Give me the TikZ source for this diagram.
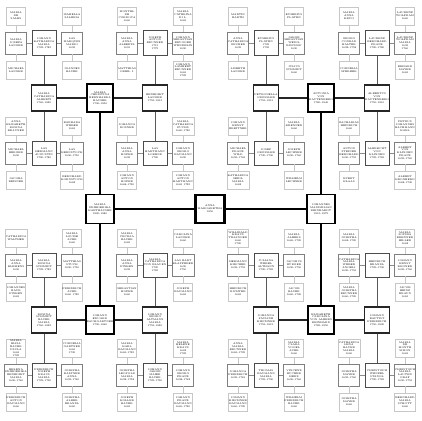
\documentclass[tikz,border=0pt]{standalone}
\begin{document}
\begin{tikzpicture}[x=1pt,y=-1pt,
 base/.style={draw, fill=white, align=center, inner sep=0.6pt, font=\fontsize{2.5}{2.9}\selectfont},
 n6/.style={base, draw=black!22, line width=.6pt, minimum width=19pt, minimum height=18pt},
 n5/.style={base, draw=black!50, line width=.8pt, minimum width=21pt, minimum height=22pt},
 n4/.style={base, draw=black!70, line width=1pt, minimum width=24pt, minimum height=24pt},
 n3/.style={base, draw=black!85, line width=1.2pt, minimum width=25pt, minimum height=26pt},
 n2/.style={base, draw=black, line width=1.5pt, minimum width=26pt, minimum height=28pt},
 n1/.style={base, draw=black, line width=1.8pt, minimum width=28pt, minimum height=29pt},
 n0/.style={base, draw=black, line width=2.4pt, minimum width=29pt, minimum height=28pt},
 e1/.style={line width=2.4pt}, e2/.style={line width=1.8pt},
 e3/.style={line width=1.3pt, draw=black!85}, e4/.style={line width=1pt, draw=black!65},
 e5/.style={line width=.8pt, draw=black!45}, e6/.style={line width=.7pt, draw=black!22}]
\useasboundingbox (0,0) rectangle (422,420);
\newcommand\N[5]{\node[#1] (#2) at (#3,#4) {#5};}
% level 0-2
\N{n0}{c}{210}{209}{ANNA\\MARGARETHA\\1850}
\N{n1}{a}{100}{209}{MARIA\\FRIEDERIKA\\KARTHÄUSER\\1820-1880}
\N{n1}{b}{321}{209}{JOHANNES\\MAXIMILIAN\\REINHARDT\\1815-1875}
\N{n2}{aU}{100}{98}{MARIA\\CHRISTINA\\BERNHARDA\\HAUSER\\1790-1850}
\N{n2}{aD}{100}{320}{JOHANN\\EDUARD\\BAUMGARTNER\\1790-1860}
\N{n2}{bU}{321}{98}{ANTONIA\\VON\\RAUTENBERG\\1780-1840}
\N{n2}{bD}{321}{320}{ELISABETH\\CAROLINA\\VON ALBERS\\REINHARD\\1785-1850}
% level 3
\N{n3}{aUL}{44}{98}{MARIA\\CATHARINA\\ALBERTI\\1760-1820}
\N{n3}{aUR}{155}{98}{BENEDIKT\\LANGER\\1755-1815}
\N{n3}{aDL}{44}{320}{ROSINA\\SCHMIDT\\BAUER\\MARIA\\1760-1825}
\N{n3}{aDR}{155}{320}{JOHANN\\GEORG\\ALTMANN\\MARIA\\1755-1820}
\N{n3}{bUL}{266}{98}{PETRONELLA\\GRÖSSLER\\1755-1815}
\N{n3}{bUR}{377}{98}{ALBERTUS\\VON\\RAUTENBERG\\1750-1810}
\N{n3}{bDL}{266}{320}{JOHANNA\\PAULINE\\KIRCHNER\\1755-1815}
\N{n3}{bDR}{377}{320}{JOHANN\\BAPTIST\\FRIEDRICH\\1750-1820}
% level 4
\N{n4}{aULU}{44}{43}{JOHANN\\KATHARINA\\MARIA\\1725-1785}
\N{n4}{aULD}{44}{153}{LAS\\HERMANN\\AUGUSTIN\\1720-1780}
\N{n4}{aURU}{155}{43}{JOSEPH\\ANTON\\BRUNNER\\1715\\1775}
\N{n4}{aURD}{155}{153}{LAS\\HARTMANN\\LORENZ\\1720}
\N{n4}{aDLU}{44}{265}{MARIA\\ROSINA\\SCHMIDT\\1725-1785}
\N{n4}{aDLD}{44}{375}{FRIEDRICH\\JOSEPH\\KRAUS\\MARIA\\1725-1790}
\N{n4}{aDRU}{155}{265}{MARIA\\CATHARINA\\VON BLAUEN\\1720\\1785}
\N{n4}{aDRD}{155}{375}{JOHANN\\JAKOB\\MAIER\\BAUER\\1725-1790}
\N{n4}{bULU}{266}{43}{EUSEBIUS\\PLATEN\\1725\\1795}
\N{n4}{bULD}{266}{153}{JOSEF\\GRÖSSLER\\1730-1790}
\N{n4}{bURU}{377}{43}{LAURENZ\\BERNHARD\\FRANZ\\1720-1780}
\N{n4}{bURD}{377}{153}{ALBRECHT\\VON\\KLINGEN\\1725-1785}
\N{n4}{bDLU}{266}{265}{JULIANA\\WEBEL\\ALTHANN\\1720-1785}
\N{n4}{bDLD}{266}{375}{THOMAS\\BAUMANN\\MARIA\\1725-1790}
\N{n4}{bDRU}{377}{265}{HEINRICH\\BRANDL\\1725-1790}
\N{n4}{bDRD}{377}{375}{CHRISTOPH\\WENZEL\\STANGL\\1720-1785}
% level 5
\N{n5}{aULUL}{16}{43}{MARIA\\JOSEFA\\LANGER}
\N{n5}{aULUR}{72}{43}{LAS\\MARQUES\\MARIO\\1695}
\N{n5}{aULDL}{16}{153}{MICHAEL\\BERGER\\1690}
\N{n5}{aULDR}{72}{153}{LAS\\KERNSTOCK\\1690-1750}
\N{n5}{aURUL}{127}{43}{MARIA\\ANNA\\ALBERTA\\1691}
\N{n5}{aURUR}{183}{43}{JOHANN\\SEBASTIAN\\BRUGGER\\WENDELIN\\1690}
\N{n5}{aURDL}{127}{153}{MARIA\\ANNA\\HOFER\\1695}
\N{n5}{aURDR}{183}{153}{JOHANN\\GEORG\\BAUMANN\\1690}
\N{n5}{aDLUL}{16}{265}{MARIA\\ANNA\\KLEMENS\\1690}
\N{n5}{aDLUR}{72}{265}{MATTHIAS\\STUCK\\1690-1750}
\N{n5}{aDLDL}{16}{375}{HELENA\\FRIEDERIKA\\BENEDIKT\\MARIA\\1690-1760}
\N{n5}{aDLDR}{72}{375}{JOSEPHA\\KALTNER\\ANNA\\1695-1760}
\N{n5}{aDRUL}{127}{265}{MARIA\\ANNA\\FINKEN\\1695}
\N{n5}{aDRUR}{183}{265}{LAS BART\\KLAPFERER\\1690\\1750}
\N{n5}{aDRDL}{127}{375}{JOSEPHA\\LEOPOLD\\MARIA\\1692-1758}
\N{n5}{aDRDR}{183}{375}{JOHANN\\GEORG\\FRANZ\\1698-1762}
\N{n5}{bULUL}{238}{43}{ANNA\\CATHARINA\\GRUBER\\1695}
\N{n5}{bULUR}{294}{43}{JAKOB\\SEBASTIAN\\WEIGL\\BISCHOF\\1690}
\N{n5}{bULDL}{238}{153}{MICHAEL\\FRANZ\\WILD\\1695-1765}
\N{n5}{bULDR}{294}{153}{JOSEPH\\LECHNER\\1690-1760}
\N{n5}{bURUL}{349}{43}{GEORG\\CONRAD\\HALTER\\1692-1758}
\N{n5}{bURUR}{405}{43}{LAURENZ\\WOLFRAM\\MARIA\\1695\\1760}
\N{n5}{bURDL}{349}{153}{ANTON\\STEINER\\BERNHARD\\1690-1755}
\N{n5}{bURDR}{405}{153}{ALBERT\\VON\\KLINGEN\\FRANZ\\1695-1760}
\N{n5}{bDLUL}{238}{265}{HERMANN\\KIRCHER\\1695-1755}
\N{n5}{bDLUR}{294}{265}{JACOBUS\\BÜRGER\\1690-1750}
\N{n5}{bDLDL}{238}{375}{JOHANNA\\FRIEDRICH\\1695-1765}
\N{n5}{bDLDR}{294}{375}{VINCENZ\\BUCHER\\HERZ\\1690-1760}
\N{n5}{bDRUL}{349}{265}{CATHARINA\\MARIA\\WEBER\\ANGELI\\1690-1755}
\N{n5}{bDRUR}{405}{265}{JOHANN\\ERNST\\KRONER\\1695-1760}
\N{n5}{bDRDL}{349}{375}{JOSEPHA\\MAYER\\1695-1760}
\N{n5}{bDRDR}{405}{375}{CHRISTOPH\\MARIA\\LAUTEN\\GRAF\\1690-1755}
% leaves
\N{n6}{aULULU}{16}{16}{MARIA\\DE\\SALES}
\N{n6}{aULULD}{16}{70}{MICHAEL\\LANGER}
\N{n6}{aULURU}{72}{16}{ISABELLA\\SALERIA}
\N{n6}{aULURD}{72}{70}{JOANNES\\BAUER}
\N{n6}{aULDLU}{16}{126}{ANNA\\ELISABETH\\ROSINA\\BRAUNER}
\N{n6}{aULDLD}{16}{180}{JACOBA\\REISNER}
\N{n6}{aULDRU}{72}{126}{BARBARA\\WEBER\\1665}
\N{n6}{aULDRD}{72}{180}{BERNHARD\\KORNSTOCK\\1662}
\N{n6}{aURULU}{127}{16}{MONTEL\\DE\\CORDOVA\\1660}
\N{n6}{aURULD}{127}{70}{MATTHIAS\\GREIL I.}
\N{n6}{aURURU}{183}{16}{MARIA\\CATERINA\\DI L.\\1665}
\N{n6}{aURURD}{183}{70}{JOHANN\\LAMBERT\\BRUNNER\\1665\\1725}
\N{n6}{aURDLU}{127}{126}{JOHANNA\\ROSNER}
\N{n6}{aURDLD}{127}{180}{JOHANN\\ANTON\\HOFER\\1668-1730}
\N{n6}{aURDRU}{183}{126}{MARIA\\CATHARINA\\FUCHS\\1660-1720}
\N{n6}{aURDRD}{183}{180}{JOHANN\\ANTON\\HARTMANN\\1665 1725}
\N{n6}{aDLULU}{16}{238}{CATHARINA\\WALTHER}
\N{n6}{aDLULD}{16}{292}{JOHANNES\\BAUR\\FINKEN\\1665}
\N{n6}{aDLURU}{72}{238}{MARIA\\LOUISE\\AUER\\1660}
\N{n6}{aDLURD}{72}{292}{FRIEDRICH\\AUER\\1660 1720}
\N{n6}{aDLDLU}{16}{348}{MARIA\\ELISA\\BAUER\\PAULA\\1665\\1725}
\N{n6}{aDLDLD}{16}{402}{FRIEDRICH\\ANTON\\BAUMANN\\1660}
\N{n6}{aDLDRU}{72}{348}{CORNELIA\\GARTNER\\1665\\1730}
\N{n6}{aDLDRD}{72}{402}{JOSEPHA\\ALBER\\BRANDL\\1660}
\N{n6}{aDRULU}{127}{238}{MARIA\\CECILIA\\BAUER\\1665}
\N{n6}{aDRULD}{127}{292}{SEBASTIAN\\HOFER\\1660}
\N{n6}{aDRURU}{183}{238}{CAROLINA\\LANGER\\1660}
\N{n6}{aDRURD}{183}{292}{JOSEPH\\BAUMANN\\1665}
\N{n6}{aDRDLU}{127}{348}{MARIA\\KARL\\BAUMANN\\1665-1725}
\N{n6}{aDRDLD}{127}{402}{JOSEPH\\KOLLER\\BAUER\\1665}
\N{n6}{aDRDRU}{183}{348}{MARIA\\HELENE\\KRAUS\\1662\\1725}
\N{n6}{aDRDRD}{183}{402}{JOHANN\\FRANZ\\BAUMANN\\1660-1720}
\N{n6}{bULULU}{238}{16}{MARTIN\\BARTH}
\N{n6}{bULULD}{238}{70}{LISBETH\\LANGER}
\N{n6}{bULURU}{294}{16}{EUSEBIUS\\PLATEN}
\N{n6}{bULURD}{294}{70}{JULIUS\\SCHMIDT\\1660}
\N{n6}{bULDLU}{238}{126}{JOHANN\\ERNST\\BREITNER}
\N{n6}{bULDLD}{238}{180}{KATHARINA\\SEIDL\\MARIA\\1662}
\N{n6}{bULDRU}{294}{126}{MARIA\\KRENNER\\1660}
\N{n6}{bULDRD}{294}{180}{WILHELM\\LECHNER}
\N{n6}{bURULU}{349}{16}{MARIA\\ANNA\\KRUG}
\N{n6}{bURULD}{349}{70}{CORNELIA\\SPERBER}
\N{n6}{bURURU}{405}{16}{LAURENZ\\WOLFRAM\\1660}
\N{n6}{bURURD}{405}{70}{ERHARD\\MAYER\\1665}
\N{n6}{bURDLU}{349}{126}{ZACHARIAS\\HEINRICH\\1660}
\N{n6}{bURDLD}{349}{180}{EVERT\\KLAAS}
\N{n6}{bURDRU}{405}{126}{PETRUS\\JOHANNES\\BACHMANN\\KARL}
\N{n6}{bURDRD}{405}{180}{ALBERT\\KRONBERG\\1662-1730}
\N{n6}{bDLULU}{238}{238}{WILLIBALD\\KRAUS\\TILLINGER\\1660\\1720}
\N{n6}{bDLULD}{238}{292}{HEINRICH\\RICHTER\\1665}
\N{n6}{bDLURU}{294}{238}{MARIA\\ALBERS\\1660-1720}
\N{n6}{bDLURD}{294}{292}{JACOB\\BAUER\\1660-1720}
\N{n6}{bDLDLU}{238}{348}{ANNA\\MARIA\\BRUNNER\\1665-1725}
\N{n6}{bDLDLD}{238}{402}{JOHANN\\KIRCHNER\\BAUMANN\\1660-1720}
\N{n6}{bDLDRU}{294}{348}{MARIA\\CLARA\\VOGEL\\AUER\\1660}
\N{n6}{bDLDRD}{294}{402}{WILHELM\\FRIEDRICH\\BAUER\\1660}
\N{n6}{bDRULU}{349}{238}{MARIA\\JOSEPHA\\1662-1720}
\N{n6}{bDRULD}{349}{292}{MARIA\\JOSEPHA\\BRUNNER\\1660-1720}
\N{n6}{bDRURU}{405}{238}{MARIA\\SOPHIA\\BRENNER\\HILLER\\1662}
\N{n6}{bDRURD}{405}{292}{JACOB\\HEINZ\\BRAUN\\1665}
\N{n6}{bDRDLU}{349}{348}{CATHARINA\\LENA\\BAUER\\MARIA\\1660}
\N{n6}{bDRDLD}{349}{402}{JOSEPHA\\MAYER\\1660}
\N{n6}{bDRDRU}{405}{348}{MARIA\\DE\\MONTE\\SIMON\\1665}
\N{n6}{bDRDRD}{405}{402}{BERNHARD\\MARIA\\SCHOTT\\1660}
% connectors
\foreach \q in {a,b} \draw[e1] (c) -- (\q);
\foreach \p in {a,b} {\draw[e2] (\p) -- (\p U); \draw[e2] (\p) -- (\p D);}
\foreach \p in {aU,aD,bU,bD} {\draw[e3] (\p) -- (\p L); \draw[e3] (\p) -- (\p R);}
\foreach \p in {aUL,aUR,aDL,aDR,bUL,bUR,bDL,bDR} {\draw[e4] (\p) -- (\p U); \draw[e4] (\p) -- (\p D);}
\foreach \p in {aULU,aULD,aURU,aURD,aDLU,aDLD,aDRU,aDRD,bULU,bULD,bURU,bURD,bDLU,bDLD,bDRU,bDRD} {\draw[e5] (\p) -- (\p L); \draw[e5] (\p) -- (\p R);}
\foreach \p in {aULUL,aULUR,aULDL,aULDR,aURUL,aURUR,aURDL,aURDR,aDLUL,aDLUR,aDLDL,aDLDR,aDRUL,aDRUR,aDRDL,aDRDR,bULUL,bULUR,bULDL,bULDR,bURUL,bURUR,bURDL,bURDR,bDLUL,bDLUR,bDLDL,bDLDR,bDRUL,bDRUR,bDRDL,bDRDR} {\draw[e6] (\p) -- (\p U); \draw[e6] (\p) -- (\p D);}
\end{tikzpicture}
\end{document}
